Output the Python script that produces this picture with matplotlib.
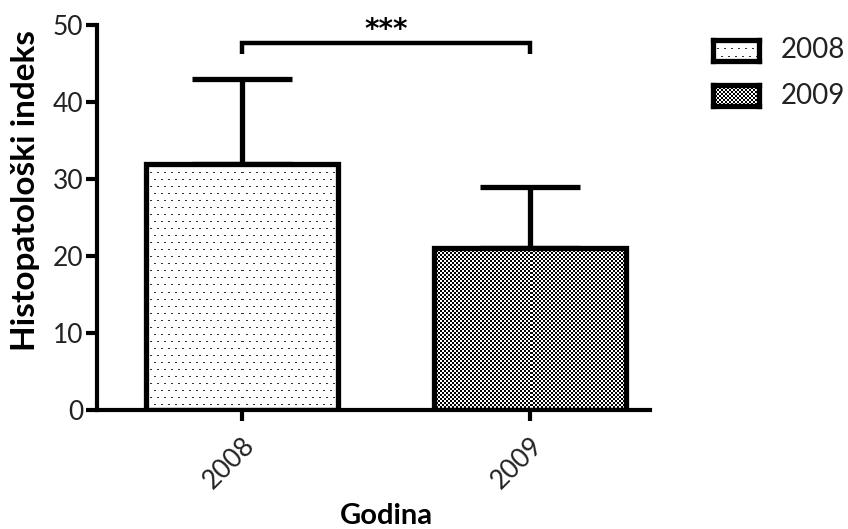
import numpy as np
import matplotlib
matplotlib.use("Agg")
import matplotlib.pyplot as plt

# ---- data ----
categories = ["2008", "2009"]
means = [32, 21]
errors = [11, 8]
y_ticks = [0, 10, 20, 30, 40, 50]
significance = "***"
bracket_y = [46.2, 47.7]
y_label = "Histopatološki indeks"
x_label = "Godina"

plt.rcParams['font.family'] = ['Lato', 'DejaVu Sans']

W, H = 848, 529
fig = plt.figure(figsize=(W / 100, H / 100), dpi=100)
ax = fig.add_axes([97 / W, 1 - 410 / H, (650 - 97) / W, (410 - 25) / H])

x = np.arange(len(categories))
width = 0.667
XL = (-0.503, 1.417)
ax.set_xlim(*XL)
ax.set_ylim(0, 50)

bars = ax.bar(x, means, width=width, facecolor='none', edgecolor='black',
              linewidth=3.8, zorder=3)
ax.errorbar(x, means, yerr=[[0, 0], errors], fmt='none', ecolor='black',
            elinewidth=3.8, capsize=36, capthick=3.8, zorder=2)


def dots_texture(h, w):
    img = np.ones((h, w))
    for r, yy in enumerate(range(2, h, 7)):
        off = 0 if r % 2 == 0 else 3
        for xx in range(1 + off, w, 7):
            img[yy:yy + 1, xx:xx + 2] = 0.2
    return img


def checker_texture(h, w):
    yy, xx = np.mgrid[0:h, 0:w]
    return np.where(((yy // 2) + (xx // 2)) % 2 == 0, 0.0, 1.0)


textures = [dots_texture, checker_texture]

fig.canvas.draw()
for bar, tex in zip(bars, textures):
    x0, y0 = bar.get_x(), 0
    x1, y1 = bar.get_x() + bar.get_width(), bar.get_height()
    p0 = ax.transData.transform((x0, y0))
    p1 = ax.transData.transform((x1, y1))
    wpx = int(round(p1[0] - p0[0]))
    hpx = int(round(p1[1] - p0[1]))
    img = tex(hpx, wpx)
    im = ax.imshow(img, cmap='gray', vmin=0, vmax=1, extent=(x0, x1, y0, y1),
                   interpolation='nearest', aspect='auto', zorder=2.5)
    im.set_clip_path(bar)
ax.set_xlim(*XL)
ax.set_ylim(0, 50)

# significance bracket
ax.plot([x[0], x[0], x[1], x[1]], [bracket_y[0], bracket_y[1], bracket_y[1], bracket_y[0]],
        color='black', lw=3.2, clip_on=False, solid_capstyle='butt', solid_joinstyle='miter')
ax.text((x[0] + x[1]) / 2, 49.4, significance, ha='center', va='center',
        fontsize=20, fontweight='bold', family='DejaVu Sans', clip_on=False)

# axes styling
for s in ['top', 'right']:
    ax.spines[s].set_visible(False)
for s in ['left', 'bottom']:
    ax.spines[s].set_linewidth(3.0)
ax.set_yticks(y_ticks)
ax.set_yticklabels([str(t) for t in y_ticks], fontsize=19, color='#222222')
ax.set_xticks(x)
ax.set_xticklabels(categories, rotation=45, ha='right', rotation_mode='anchor',
                   fontsize=19, color='#222222')
ax.tick_params(axis='both', width=3.0, length=8, pad=2)
ax.tick_params(axis='x', pad=8)
ax.set_ylabel(y_label, fontsize=24, fontweight='bold')
ax.yaxis.set_label_coords(-0.103, 0.569)
ax.set_xlabel(x_label, fontsize=21, fontweight='bold')
ax.xaxis.set_label_coords(0.523, -0.242)
ax.xaxis.label.set_va('top')

# legend (manual)
leg_items = [(categories[0], dots_texture, 40), (categories[1], checker_texture, 85)]
for label, tex, top in leg_items:
    lx, lw_, lh = 713, 46, 21
    lax = fig.add_axes([lx / W, 1 - (top + lh) / H, lw_ / W, lh / H])
    lax.imshow(tex(lh, lw_), cmap='gray', vmin=0, vmax=1, interpolation='nearest',
               aspect='auto')
    lax.set_xticks([]); lax.set_yticks([])
    for s in lax.spines.values():
        s.set_linewidth(3.8)
    fig.text(781 / W, 1 - (top + lh / 2) / H, label, ha='left', va='center',
             fontsize=20, color='#222222')

fig.savefig("out.png", dpi=100)
